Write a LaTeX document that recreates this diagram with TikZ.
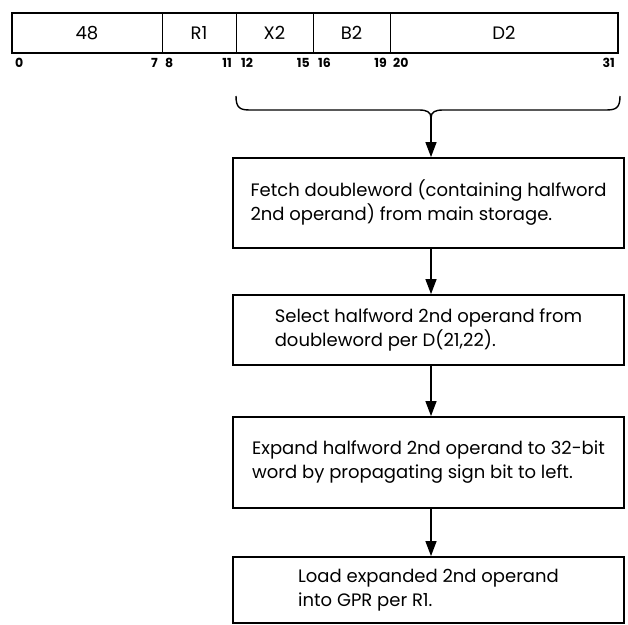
\documentclass[tikz,border=0pt]{standalone}
\usepackage{fontspec}
\setmainfont{Poppins}
\usetikzlibrary{arrows.meta}
\begin{document}
\begin{tikzpicture}[x=1pt,y=-1pt,
  stepbox/.style={draw,line width=1.8pt,minimum width=391pt,align=left,inner sep=0pt,
    font=\fontsize{18}{24}\selectfont},
  fieldtext/.style={font=\fontsize{18}{20}\selectfont},
  bitnum/.style={font=\bfseries\fontsize{12.5}{14}\selectfont,inner sep=0pt},
  flow/.style={line width=1.3pt,-{Triangle[length=15pt,width=11pt]}},
  divider/.style={line width=0.9pt}]
\useasboundingbox (0,0) rectangle (628,624);
% instruction format bar
\draw[line width=1.8pt] (12,13) rectangle (618,53);
\coordinate (d1t) at (162,13); \coordinate (d1b) at (162,53);
\coordinate (d2t) at (236,13); \coordinate (d2b) at (236,53);
\coordinate (d3t) at (313,13); \coordinate (d3b) at (313,53);
\coordinate (d4t) at (390,13); \coordinate (d4b) at (390,53);
\draw[divider] (d1t) -- (d1b);
\draw[divider] (d2t) -- (d2b);
\draw[divider] (d3t) -- (d3b);
\draw[divider] (d4t) -- (d4b);
\node[fieldtext] (op) at (87,33) {48};
\node[fieldtext] (r1) at (199,33) {R1};
\node[fieldtext] (x2) at (274.5,33) {X2};
\node[fieldtext] (b2) at (351.5,33) {B2};
\node[fieldtext] (d2) at (504,33) {D2};
% bit numbers
\node[bitnum,anchor=base west] (n0) at (15,67) {0};
\node[bitnum,anchor=base east] (n7) at (158,67) {7};
\node[bitnum,anchor=base west] (n8) at (165,67) {8};
\node[bitnum,anchor=base east] (n11) at (232,67) {11};
\node[bitnum,anchor=base west] (n12) at (241,67) {12};
\node[bitnum,anchor=base east] (n15) at (310,67) {15};
\node[bitnum,anchor=base west] (n16) at (318,67) {16};
\node[bitnum,anchor=base east] (n19) at (387,67) {19};
\node[bitnum,anchor=base west] (n20) at (393,67) {20};
\node[bitnum,anchor=base east] (n31) at (615,67) {31};
% brace
\coordinate (bl) at (236,96);
\coordinate (br) at (620,96);
\coordinate (tip) at (431,118);
\draw[line width=1.4pt] (bl) .. controls (236,108) and (240,110) .. (250,110) -- (419,110)
  .. controls (427,110) and (431,112) .. (tip)
  .. controls (431,112) and (435,110) .. (443,110) -- (606,110)
  .. controls (616,110) and (620,108) .. (br);
% boxes
\node[stepbox,minimum height=90pt] (s1) at (428.5,203)
  {Fetch doubleword (containing halfword\\2nd operand) from main storage.};
\node[stepbox,minimum height=70pt] (s2) at (428.5,330)
  {Select halfword 2nd operand from\\doubleword per D(21,22).};
\node[stepbox,minimum height=91pt] (s3) at (428.5,462.5)
  {Expand halfword 2nd operand to 32-bit\\word by propagating sign bit to left.};
\node[stepbox,minimum height=66pt] (s4) at (428.5,590)
  {Load expanded 2nd operand\\into GPR per R1.};
% arrows
\draw[flow] (tip) -- (tip |- s1.north);
\draw[flow] (tip |- s1.south) -- (tip |- s2.north);
\draw[flow] (tip |- s2.south) -- (tip |- s3.north);
\draw[flow] (tip |- s3.south) -- (tip |- s4.north);
\end{tikzpicture}
\end{document}
